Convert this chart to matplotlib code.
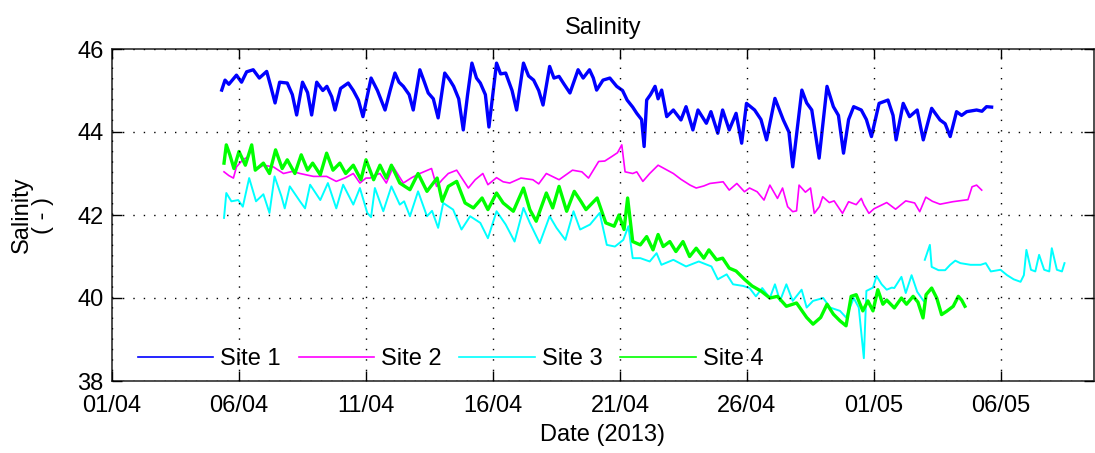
import numpy as np
import matplotlib
matplotlib.use("Agg")
from matplotlib import pyplot as plt

# days after 01/04/2013 00:00, salinity
t1 = [4.32, 4.45, 4.6, 4.9, 5.1, 5.3, 5.56, 5.8, 6.09, 6.25, 6.42, 6.6, 6.9, 7.1, 7.27, 7.5, 7.7, 7.86,
      8.06, 8.3, 8.46, 8.65, 8.78, 9.0, 9.3, 9.5, 9.7, 9.88, 10.2, 10.45, 10.75, 10.95, 11.14, 11.3,
      11.47, 11.7, 11.86, 12.12, 12.3, 12.45, 12.65, 12.84, 13.1, 13.3, 13.45, 13.65, 13.83, 14.0,
      14.17, 14.35, 14.5, 14.7, 14.84, 15.14, 15.3, 15.5, 15.75, 15.93, 16.2, 16.4, 16.6, 16.8, 16.97,
      17.23, 17.4, 17.6, 17.8, 18.03, 18.35, 18.55, 18.8, 18.95, 19.08, 19.33, 19.6, 19.87, 20.1,
      20.28, 20.5, 20.66, 20.85, 20.95, 21.05, 21.2, 21.38, 21.5, 21.64, 21.84, 22.1, 22.4, 22.6,
      22.87, 23.07, 23.4, 23.58, 23.85, 24.04, 24.3, 24.57, 24.79, 24.98, 25.3, 25.55, 25.77, 26.1,
      26.43, 26.65, 26.8, 27.0, 27.16, 27.35, 27.55, 27.84, 28.15, 28.4, 28.6, 28.8, 29.0, 29.2, 29.5,
      29.7, 29.9, 30.2, 30.55, 30.75, 30.87, 31.15, 31.4, 31.7, 31.94, 32.27, 32.6, 32.8, 33.0, 33.25,
      33.45, 33.65, 34.04, 34.25, 34.43, 34.63]
s1 = [45.01, 45.25, 45.15, 45.37, 45.2, 45.45, 45.5, 45.3, 45.46, 45.1, 44.7, 45.2, 45.18, 44.9, 44.41,
      45.2, 44.95, 44.41, 45.2, 45.0, 45.1, 44.85, 44.53, 45.05, 45.18, 45.0, 44.77, 44.37, 45.3, 45.0,
      44.53, 45.0, 45.42, 45.2, 45.1, 44.9, 44.53, 45.5, 45.2, 44.94, 44.8, 44.34, 45.42, 45.25, 45.1,
      44.8, 44.05, 44.9, 45.66, 45.3, 45.18, 44.9, 44.12, 45.66, 45.4, 45.42, 45.0, 44.53, 45.66, 45.35,
      45.25, 45.0, 44.65, 45.58, 45.3, 45.34, 45.15, 44.94, 45.5, 45.3, 45.5, 45.3, 45.01, 45.25, 45.3,
      45.1, 45.0, 44.77, 44.6, 44.45, 44.3, 43.65, 44.77, 44.9, 45.1, 44.8, 45.01, 44.37, 44.53, 44.29,
      44.61, 44.05, 44.53, 44.21, 44.49, 43.97, 44.53, 44.05, 44.45, 43.73, 44.69, 44.53, 44.3, 43.81,
      44.81, 44.29, 44.0, 43.16, 44.2, 45.01, 44.7, 44.53, 43.37, 45.1, 44.61, 44.4, 43.49, 44.3, 44.61,
      44.53, 44.3, 43.89, 44.69, 44.77, 44.4, 43.81, 44.69, 44.37, 44.53, 43.81, 44.57, 44.29, 44.2,
      43.89, 44.49, 44.4, 44.49, 44.53, 44.5, 44.61, 44.6]

t2 = [4.41, 4.6, 4.78, 4.9, 5.15, 5.35, 5.5, 5.64, 5.96, 6.35, 6.75, 7.1, 7.4, 7.93, 8.45, 8.83, 9.2, 9.5,
      9.76, 10.0, 10.16, 10.4, 10.55, 10.8, 11.07, 11.47, 11.8, 12.12, 12.58, 12.78, 13.0, 13.24, 13.57,
      14.03, 14.3, 14.6, 14.8, 15.14, 15.4, 15.66, 16.1, 16.57, 16.8, 17.1, 17.6, 18.13, 18.5, 18.76,
      19.16, 19.4, 19.68, 19.9, 20.07, 20.2, 20.5, 20.66, 20.9, 21.17, 21.5, 21.8, 22.1, 22.4, 22.76,
      23.0, 23.3, 23.54, 24.06, 24.3, 24.6, 24.9, 25.1, 25.4, 25.67, 25.9, 26.2, 26.4, 26.6, 26.8, 26.95,
      27.05, 27.3, 27.5, 27.65, 27.85, 27.98, 28.24, 28.43, 28.76, 29.0, 29.3, 29.5, 29.6, 29.8, 30.0,
      30.5, 30.85, 31.25, 31.6, 31.8, 32.04, 32.3, 32.6, 33.1, 33.7, 33.86, 34.04, 34.24]
s2 = [43.04, 42.95, 42.89, 43.16, 43.33, 43.4, 43.61, 43.08, 43.2, 43.16, 43.0, 43.05, 43.0, 42.93, 42.93,
      42.81, 42.9, 43.0, 42.77, 42.89, 42.89, 42.97, 43.0, 42.77, 43.16, 42.77, 42.9, 43.0, 43.12, 42.69,
      42.85, 43.0, 43.08, 42.65, 42.85, 43.0, 42.73, 42.9, 42.8, 42.77, 42.89, 42.85, 42.75, 43.0, 42.85,
      43.08, 43.04, 42.89, 43.29, 43.3, 43.41, 43.5, 43.69, 43.04, 43.0, 43.04, 42.81, 43.0, 43.2, 43.1,
      43.0, 42.86, 42.72, 42.65, 42.7, 42.76, 42.8, 42.6, 42.76, 42.56, 42.65, 42.56, 42.36, 42.72, 42.4,
      42.65, 42.2, 42.08, 42.1, 42.72, 42.55, 42.65, 42.04, 42.2, 42.44, 42.3, 42.34, 42.04, 42.32, 42.25,
      42.4, 42.25, 42.04, 42.15, 42.3, 42.14, 42.34, 42.29, 42.08, 42.43, 42.33, 42.26, 42.32, 42.37,
      42.68, 42.72, 42.6]

t3 = [4.41, 4.5, 4.7, 4.97, 5.15, 5.4, 5.67, 5.96, 6.2, 6.4, 6.67, 6.8, 7.0, 7.4, 7.6, 7.8, 8.2, 8.5, 8.83,
      9.1, 9.5, 9.76, 10.05, 10.2, 10.35, 10.68, 11.0, 11.33, 11.5, 11.73, 12.05, 12.4, 12.6, 12.84,
      13.04, 13.43, 13.76, 14.1, 14.5, 14.8, 15.14, 15.5, 15.85, 16.2, 16.45, 16.84, 17.23, 17.5, 17.85,
      18.17, 18.43, 18.82, 19.2, 19.48, 19.8, 20.13, 20.33, 20.5, 20.8, 21.17, 21.44, 21.63, 22.1, 22.6,
      23.1, 23.6, 23.85, 24.2, 24.45, 24.85, 25.1, 25.35, 25.6, 25.9, 26.1, 26.3, 26.55, 26.8, 27.15,
      27.35, 27.6, 28.0, 28.27, 28.66, 28.9, 29.2, 29.4, 29.6, 29.7, 29.96, 30.1, 30.3, 30.5, 30.7, 30.8,
      31.08, 31.25, 31.48, 31.7, 31.95, 31.97, 32.0, 32.2, 32.27, 32.54, 32.8, 33.0, 33.2, 33.4, 33.8,
      34.2, 34.4, 34.6, 34.98, 35.24, 35.5, 35.77, 35.9, 36.0, 36.18, 36.35, 36.5, 36.7, 36.9, 37.0,
      37.2, 37.4, 37.5]
s3 = [41.93, 42.53, 42.33, 42.36, 42.2, 42.89, 42.33, 42.5, 42.05, 42.93, 42.45, 42.16, 42.69, 42.33,
      42.16, 42.73, 42.36, 42.77, 42.16, 42.73, 42.25, 42.65, 42.05, 41.95, 42.65, 42.09, 42.69, 42.25,
      42.33, 41.97, 42.57, 41.97, 42.1, 41.69, 42.29, 42.13, 41.65, 41.97, 41.81, 41.44, 42.09, 41.77,
      41.36, 42.17, 41.81, 41.32, 41.97, 41.69, 41.4, 42.09, 41.65, 41.77, 42.05, 41.28, 41.24, 41.4,
      41.73, 40.96, 40.96, 40.88, 41.08, 40.8, 40.92, 40.76, 40.88, 40.76, 40.45, 40.57, 40.33, 40.29,
      40.24, 40.04, 40.24, 40.0, 40.33, 39.93, 40.33, 39.93, 40.2, 39.77, 39.93, 40.0, 39.77, 39.69,
      39.53, 40.0, 39.77, 38.55, 40.17, 40.25, 40.53, 40.33, 40.2, 40.25, 40.24, 40.51, 40.12, 40.55,
      40.15, 39.93, np.nan, 40.92, 41.28, 40.75, 40.67, 40.67, 40.8, 40.9, 40.84, 40.8, 40.8, 40.84,
      40.64, 40.68, 40.55, 40.45, 40.39, 40.55, 41.16, 40.68, 40.64, 41.04, 40.68, 40.64, 41.2, 40.68,
      40.64, 40.84]

t4 = [4.41, 4.5, 4.64, 4.8, 5.0, 5.25, 5.5, 5.64, 5.96, 6.2, 6.44, 6.7, 6.9, 7.2, 7.45, 7.7, 7.9, 8.2,
      8.45, 8.7, 8.97, 9.2, 9.5, 9.8, 10.0, 10.3, 10.55, 10.8, 11.0, 11.33, 11.73, 12.05, 12.4, 12.8,
      13.0, 13.24, 13.57, 13.9, 14.23, 14.57, 14.8, 15.14, 15.4, 15.8, 16.2, 16.45, 16.7, 17.1, 17.35,
      17.6, 17.9, 18.2, 18.46, 18.66, 19.1, 19.44, 19.77, 19.96, 20.16, 20.3, 20.5, 20.8, 21.05, 21.3,
      21.5, 21.7, 21.96, 22.2, 22.48, 22.74, 23.0, 23.3, 23.5, 23.8, 24.04, 24.3, 24.57, 24.9, 25.2,
      25.57, 25.9, 26.2, 26.55, 26.95, 27.35, 27.6, 27.9, 28.15, 28.4, 28.66, 28.9, 29.1, 29.3, 29.56,
      29.76, 29.96, 30.15, 30.35, 30.5, 30.8, 31.08, 31.28, 31.54, 31.73, 31.93, 32.05, 32.27, 32.47,
      32.66, 32.86, 33.12, 33.32, 33.45, 33.58]
s4 = [43.25, 43.69, 43.45, 43.12, 43.53, 43.2, 43.69, 43.08, 43.25, 43.0, 43.57, 43.12, 43.33, 43.0,
      43.45, 43.08, 43.25, 42.97, 43.49, 43.08, 43.25, 43.0, 43.2, 42.85, 43.33, 42.85, 43.2, 42.89, 43.2,
      42.77, 42.61, 43.0, 42.57, 42.89, 42.33, 42.69, 42.81, 42.29, 42.17, 42.41, 42.13, 42.53, 42.29,
      42.09, 42.65, 42.13, 41.85, 42.53, 42.17, 42.69, 42.09, 42.57, 42.33, 42.13, 42.41, 41.81, 41.73,
      42.0, 41.65, 42.41, 41.36, 41.28, 41.48, 41.16, 41.53, 41.24, 41.36, 41.12, 41.36, 41.0, 41.2,
      40.96, 41.16, 40.92, 40.96, 40.72, 40.65, 40.45, 40.29, 40.16, 40.0, 40.04, 39.8, 39.88, 39.53,
      39.37, 39.53, 39.85, 39.61, 39.45, 39.33, 40.04, 40.08, 39.69, 39.93, 39.69, 40.2, 39.85, 39.95,
      39.76, 40.0, 39.85, 40.04, 39.9, 39.52, 40.08, 40.24, 40.0, 39.6, 39.68, 39.8, 40.04, 39.95, 39.8]

sites = ["Site 1", "Site 2", "Site 3", "Site 4"]
colors = ["#0000ff", "#ff00ff", "#00ffff", "#00ff00"]
widths = [2.4, 1.2, 1.4, 2.4]

tick_pos = [0, 5, 10, 15, 20, 25, 30, 35]
tick_lab = ["01/04", "06/04", "11/04", "16/04", "21/04", "26/04", "01/05", "06/05"]
ytick = [38, 40, 42, 44, 46]

fs = 17
plt.rcParams['font.family'] = ['Liberation Sans', 'DejaVu Sans']
plt.rcParams['font.size'] = fs

fig = plt.figure(figsize=(10.95, 4.53), dpi=100)
ax = fig.add_axes([112/1095, 1 - 381/453, (1094 - 112)/1095, 332/453])

for t, s, c, w, lab in zip([t1, t2, t3, t4], [s1, s2, s3, s4], colors, widths, sites):
    ax.plot(t, s, color=c, lw=w, label=lab)

ax.set_xlim(0, (1094 - 112)/25.4)
ax.set_ylim(38, 46)
ax.set_xticks(tick_pos)
ax.set_xticklabels(tick_lab)
ax.set_yticks(ytick)

ax.set_axisbelow(False)
ax.grid(True, color='black', linestyle=(0, (1, 6.5)), linewidth=1.0)
ax.tick_params(direction='in', length=7, width=1, top=True, right=True, labelsize=fs)
ax.tick_params(axis='x', pad=10)
ax.tick_params(axis='y', pad=6)
for sp in ax.spines.values():
    sp.set_color('#303030')
    sp.set_linewidth(1.2)

ax.set_title("Salinity", fontsize=fs, pad=11)
ax.set_xlabel("Date (2013)", fontsize=fs, labelpad=5)
ax.set_ylabel("Salinity\n( - )", fontsize=fs, labelpad=17, linespacing=0.95)

leg = ax.legend(loc='center left', bbox_to_anchor=(0.026, 0.066), ncol=4, frameon=False,
                handlelength=3.2, handletextpad=0.3, columnspacing=0.75, borderpad=0,
                borderaxespad=0, fontsize=fs)
for h in leg.get_lines():
    h.set_linewidth(1.2)

fig.savefig("out.png", dpi=100)
